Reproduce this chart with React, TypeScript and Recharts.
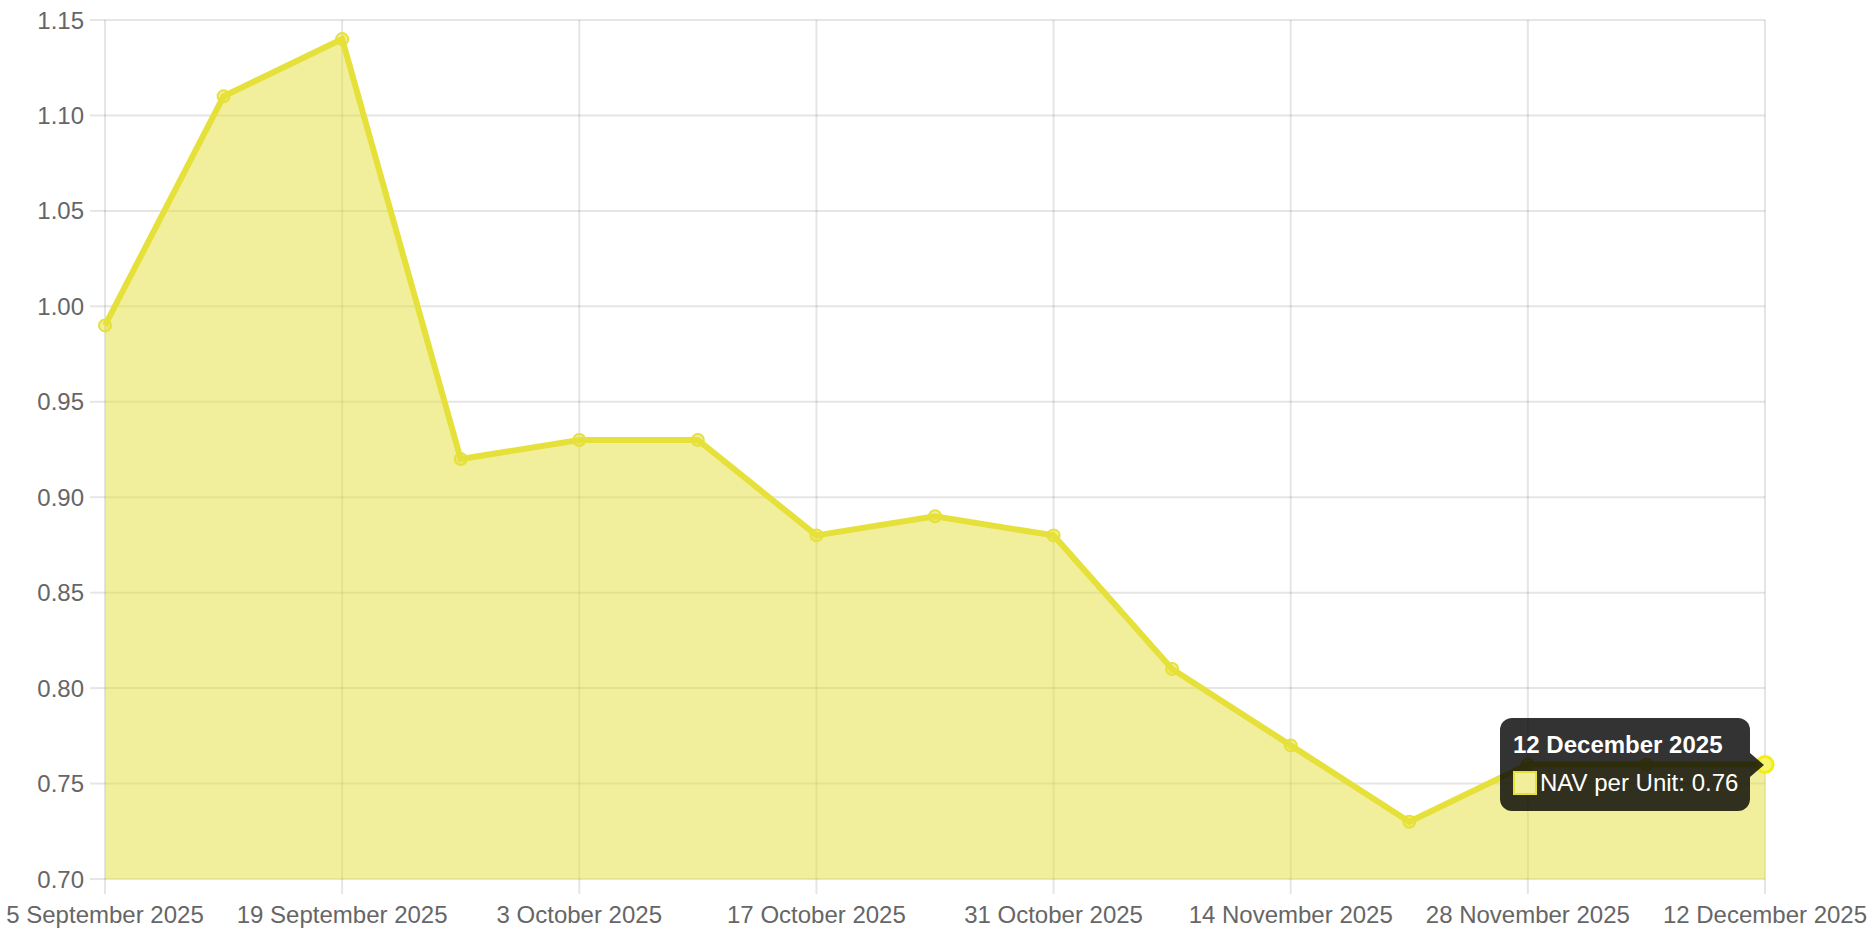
import React from "react";
import { AreaChart, Area, XAxis, YAxis, CartesianGrid, Tooltip } from "recharts";

// weekly NAV readings
const dates = [
  "5 September 2025",
  "12 September 2025",
  "19 September 2025",
  "26 September 2025",
  "3 October 2025",
  "10 October 2025",
  "17 October 2025",
  "24 October 2025",
  "31 October 2025",
  "7 November 2025",
  "14 November 2025",
  "21 November 2025",
  "28 November 2025",
  "5 December 2025",
  "12 December 2025",
];
const navValues = [0.99, 1.11, 1.14, 0.92, 0.93, 0.93, 0.88, 0.89, 0.88, 0.81, 0.77, 0.73, 0.76, 0.76, 0.76];

// only every second week gets a label on the x axis
const xTicks = [
  "5 September 2025",
  "19 September 2025",
  "3 October 2025",
  "17 October 2025",
  "31 October 2025",
  "14 November 2025",
  "28 November 2025",
  "12 December 2025",
];
const yTicks = [0.7, 0.75, 0.8, 0.85, 0.9, 0.95, 1.0, 1.05, 1.1, 1.15];

const seriesName = "NAV per Unit";

const LINE = "#e6e03a";
const FILL = "rgba(230, 224, 58, 0.5)";
const GRID = "rgba(0, 0, 0, 0.1)";
const FONT = '"Liberation Sans", Arial, Helvetica, sans-serif';

const data = dates.map((date, i) => ({ date, nav: navValues[i] }));

const NavTooltip = ({ active, payload, label }: any) => {
  if (!active || !payload || !payload.length) return null;
  return (
    <div style={{ position: "relative", fontFamily: FONT, whiteSpace: "nowrap" }}>
      <div
        style={{
          background: "rgba(0,0,0,0.8)",
          color: "#fff",
          borderRadius: 12,
          padding: "13px 12px 14px 13px",
          boxSizing: "border-box",
          minWidth: 249,
        }}
      >
        <div style={{ fontWeight: "bold", fontSize: 24, lineHeight: "28px", marginBottom: 10 }}>{label}</div>
        <div style={{ display: "flex", alignItems: "center", fontSize: 24, lineHeight: "28px" }}>
          <span
            style={{
              display: "inline-block",
              boxSizing: "border-box",
              width: 24,
              height: 24,
              background: "#f2ef9c",
              border: `2px solid ${LINE}`,
              marginRight: 3,
            }}
          />
          <span>
            {seriesName}: {payload[0].value}
          </span>
        </div>
      </div>
      <div
        style={{
          position: "absolute",
          right: -14,
          top: 35,
          width: 0,
          height: 0,
          borderTop: "12px solid transparent",
          borderBottom: "12px solid transparent",
          borderLeft: "14px solid rgba(0,0,0,0.8)",
        }}
      />
    </div>
  );
};

export default function App() {
  return (
    <div style={{ width: 1872, height: 936, background: "#fff" }}>
      <style>{`body{margin:0}`}</style>
      <AreaChart
        width={1872}
        height={936}
        data={data}
        margin={{ top: 20, right: 107, bottom: 0, left: 0 }}
      >
        <CartesianGrid stroke={GRID} strokeWidth={2} />
        <XAxis
          dataKey="date"
          ticks={xTicks}
          interval={0}
          height={57}
          tickSize={15}
          tickMargin={12}
          axisLine={false}
          tickLine={{ stroke: GRID, strokeWidth: 2 }}
          tick={{ fill: "#666", fontSize: 24, fontFamily: FONT }}
        />
        <YAxis
          domain={[0.7, 1.15]}
          ticks={yTicks}
          interval={0}
          width={105}
          tickSize={15}
          tickMargin={6}
          axisLine={false}
          tickLine={{ stroke: GRID, strokeWidth: 2 }}
          tickFormatter={(v: number) => v.toFixed(2)}
          tick={{ fill: "#666", fontSize: 24, fontFamily: FONT }}
        />
        <Tooltip
          content={<NavTooltip />}
          defaultIndex={14}
          active={true}
          cursor={false}
          position={{ x: 1500, y: 718 }}
          isAnimationActive={false}
          wrapperStyle={{ outline: "none" }}
        />
        <Area
          type="linear"
          dataKey="nav"
          name={seriesName}
          stroke={LINE}
          strokeWidth={6}
          fill={FILL}
          fillOpacity={1}
          dot={{ r: 6, fill: FILL, stroke: LINE, strokeWidth: 2 }}
          activeDot={{ r: 8, fill: "#f7f56e", stroke: "#f2ee10", strokeWidth: 3 }}
          isAnimationActive={false}
        />
      </AreaChart>
    </div>
  );
}
